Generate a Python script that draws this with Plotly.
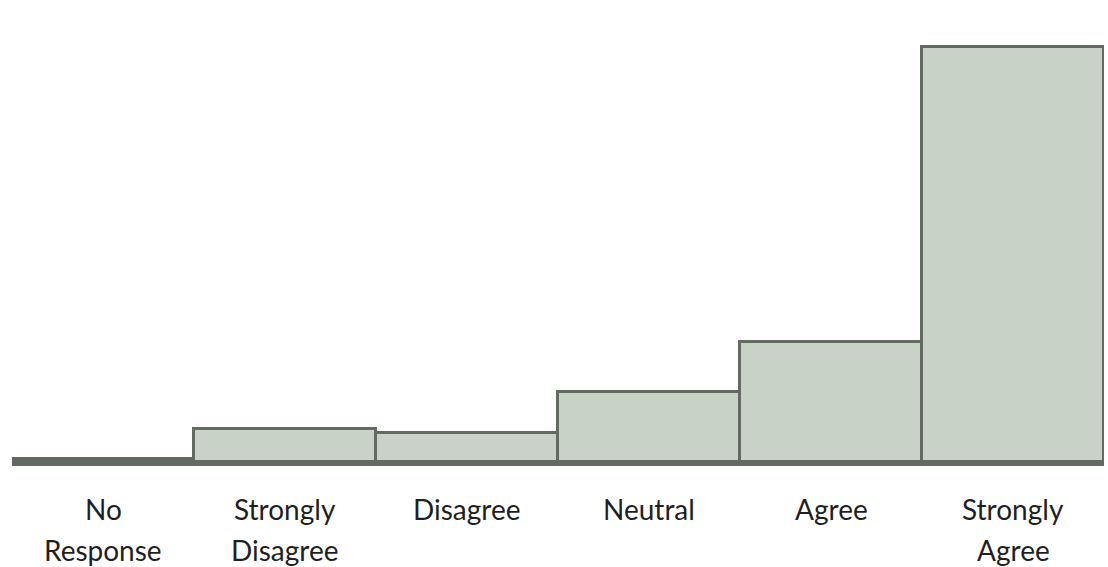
import plotly.graph_objects as go

# Survey responses (% of respondents)
categories = ["No Response", "Strongly Disagree", "Disagree", "Neutral", "Agree", "Strongly Agree"]
percent = [0.5, 4.9, 4.3, 10.5, 18.0, 62.0]

fill_color = "#c8d2c7"
edge_color = "#626a62"
label_color = "#1f1f1f"
label_font = "Lato, 'Noto Sans', sans-serif"

fig = go.Figure(
    go.Bar(
        x=categories,
        y=percent,
        marker=dict(color=fill_color, line=dict(color=edge_color, width=3)),
        hoverinfo="x+y",
    )
)

# Category labels: one word per line, with generous line spacing
line_gap = 41
for cat in categories:
    for i, word in enumerate(cat.split(" ")):
        fig.add_annotation(
            x=cat,
            xref="x",
            y=0,
            yref="paper",
            text=word,
            showarrow=False,
            xanchor="center",
            yanchor="middle",
            yshift=-47 - i * line_gap,
            font=dict(family=label_font, size=28, color=label_color),
        )

fig.update_layout(
    width=1108,
    height=567,
    margin=dict(l=12, r=4, t=20, b=105),
    paper_bgcolor="white",
    plot_bgcolor="white",
    bargap=0,
    showlegend=False,
    font=dict(family=label_font, size=21, color=label_color),
)

fig.update_xaxes(
    showline=True,
    linecolor=edge_color,
    linewidth=4,
    showgrid=False,
    ticks="",
    showticklabels=False,
)
fig.update_yaxes(
    range=[0, 66.05],
    visible=False,
    showgrid=False,
    zeroline=False,
)

fig.write_html("out.html")
